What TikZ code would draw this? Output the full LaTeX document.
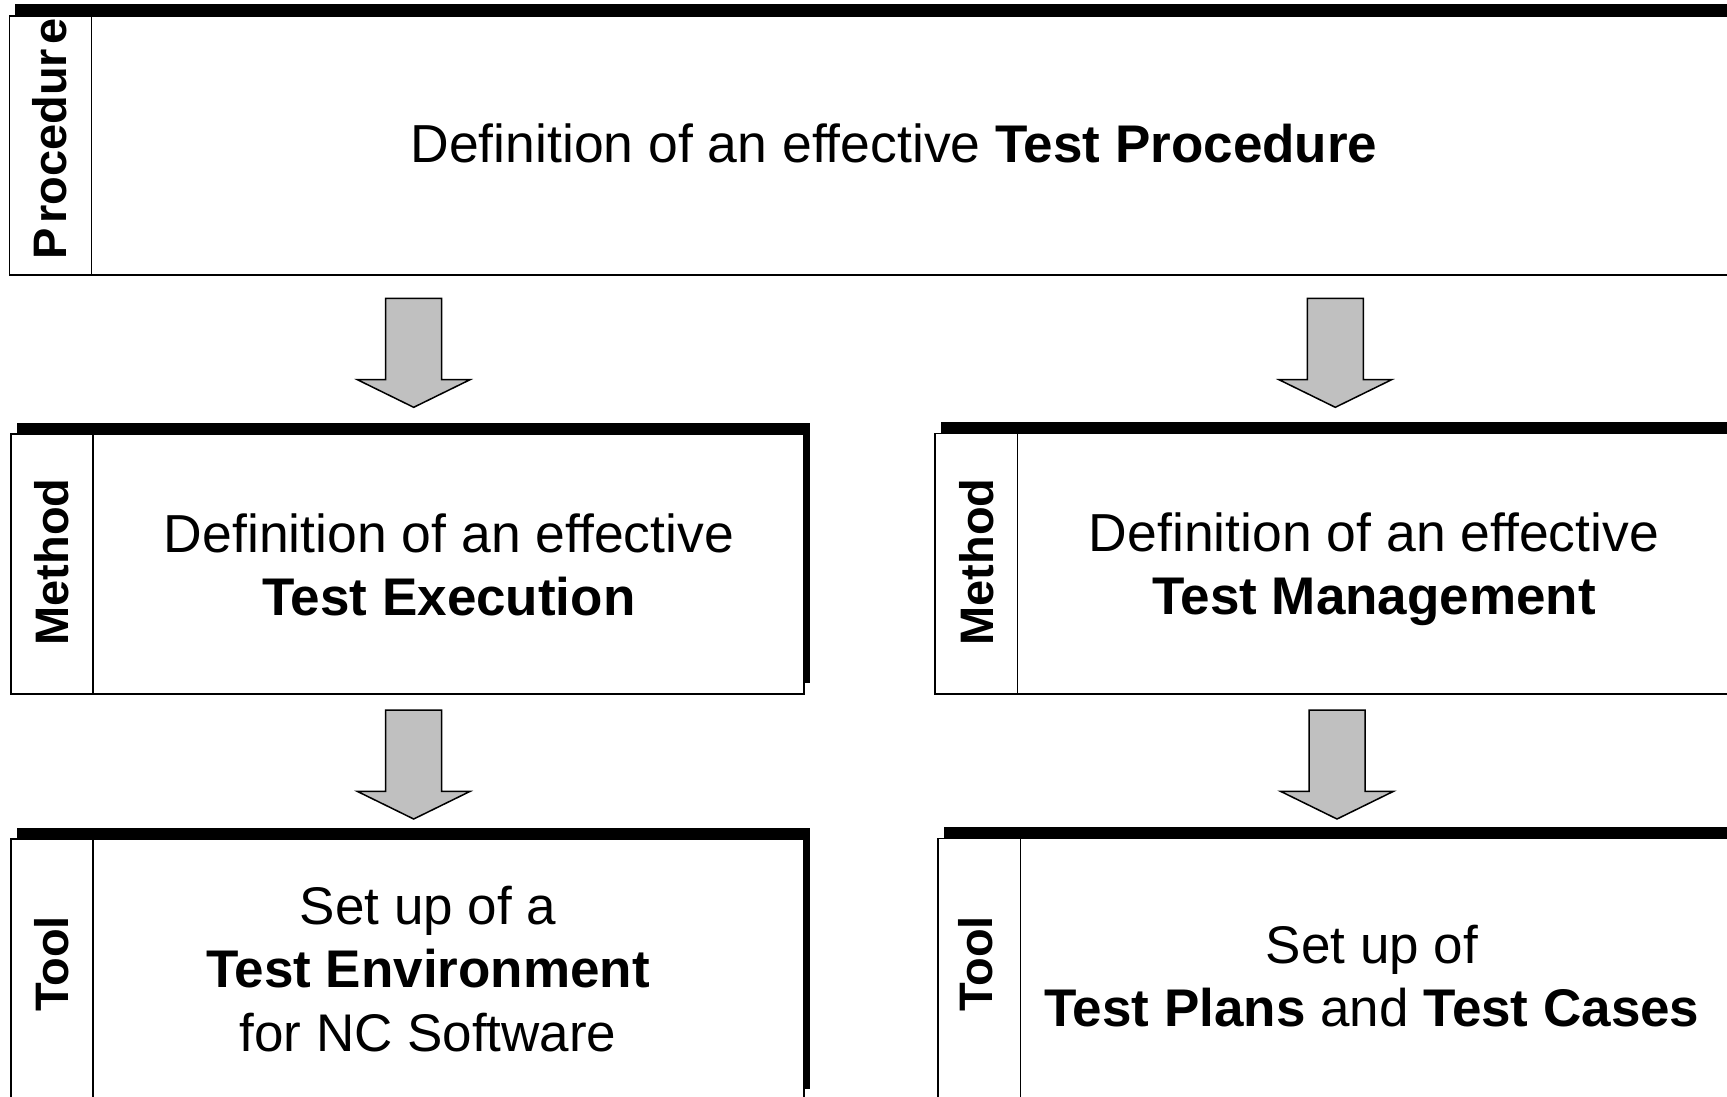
\documentclass[tikz,border=0pt]{standalone}
\usepackage{fontspec}
\setmainfont{Liberation Sans}
\usetikzlibrary{backgrounds}
\definecolor{arrowgray}{HTML}{C0C0C0}
\tikzset{
  box/.style={draw=black, line width=1.8pt, fill=white, rectangle, inner sep=0pt, outer sep=0pt, anchor=north west},
  shadowfill/.style={fill=black},
  divider/.style={draw=black, line width=1.4pt},
  sidelabel/.style={rotate=90, font=\bfseries\fontsize{47}{50}\selectfont, inner sep=0pt},
  maintext/.style={align=center, inner sep=0pt, font=\fontsize{53}{63.5}\selectfont},
  blockarr/.style={draw=black, line width=1.5pt, fill=arrowgray, line join=miter},
}
\newcommand{\regbig}{\fontsize{53.5}{63.5}\selectfont}
\begin{document}
\begin{tikzpicture}[x=1pt,y=-1pt]
\useasboundingbox (0,0) rectangle (1727,1096);
% boxes
\node[box, minimum width=1750pt, minimum height=259.3pt] (proc) at (9.5,15.7) {};
\node[box, minimum width=793pt, minimum height=260pt] (methL) at (11,434) {};
\node[box, minimum width=825pt, minimum height=260.5pt] (methR) at (935.3,433.5) {};
\node[box, minimum width=793.3pt, minimum height=261pt] (toolL) at (11,839) {};
\node[box, minimum width=822pt, minimum height=261.5pt] (toolR) at (938.3,838.5) {};
% shadows
\begin{scope}[on background layer]
\foreach \b in {proc,methL,methR,toolL,toolR}{
  \fill[shadowfill] ([shift={(5.5,-11.5)}]\b.north west) rectangle ([shift={(5.5,-11.5)}]\b.south east);
}
\end{scope}
% dividers
\foreach \b in {proc,methL,methR,toolL,toolR}{
  \draw[divider] ([xshift=82pt]\b.north west) -- ([xshift=82pt]\b.south west);
}
% side labels
\node[sidelabel] (lproc) at (50,139) {P\hspace{4pt}rocedur\hspace{4pt}e};
\node[sidelabel] (lmethL) at (52,562) {Method};
\node[sidelabel] (lmethR) at (976.5,562) {Method};
\node[sidelabel] (ltoolL) at (52,964) {Tool};
\node[sidelabel] (ltoolR) at (976,964) {Tool};
% main texts
\node[maintext] (tproc) at (894,143) {{\regbig Definition of an effective }\textbf{Test Procedure}};
\node[maintext] (tmethL) at (449,565) {{\regbig Definition of an effective}\\\textbf{Test Execution}};
\node[maintext] (tmethR) at (1374,569) {{\regbig Definition of an effective}\\\textbf{Test Management}};
\node[maintext] (ttoolL) at (428,969) {Set up of a\\\textbf{Test Environment}\\for NC Software};
\node[maintext] (ttoolR) at (1372,976) {Set up of\\\textbf{Test Plans} and \textbf{Test Cases}};
% block arrows
\coordinate (a1) at (413.7,298.3);
\coordinate (a2) at (1335.3,298.3);
\coordinate (a3) at (413.7,710);
\coordinate (a4) at (1337,710);
\foreach \a in {a1,a2,a3,a4}{
  \draw[blockarr] (\a) ++(-28,0) -- ++(0,81.4) -- ++(-28.3,0) -- ++(56.3,27.6) -- ++(56.3,-27.6) -- ++(-28.3,0) -- ++(0,-81.4) -- cycle;
}
\end{tikzpicture}
\end{document}
